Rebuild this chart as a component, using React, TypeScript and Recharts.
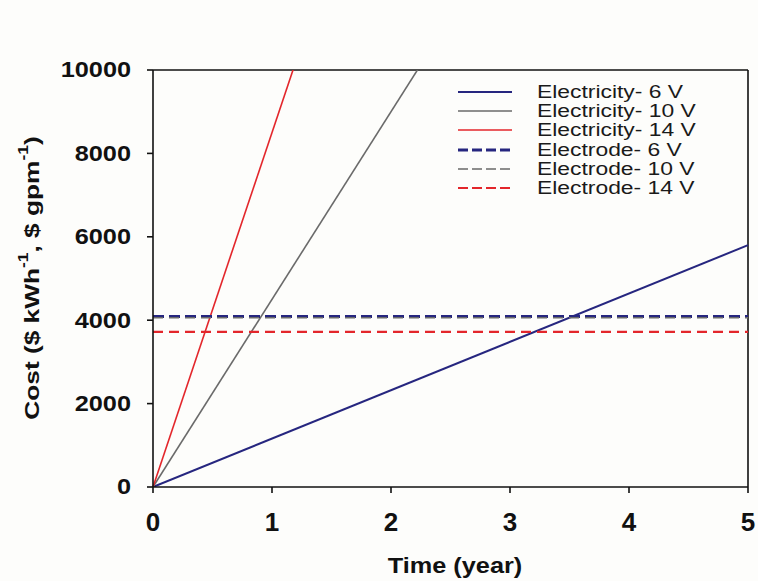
import { LineChart, Line, XAxis, YAxis, ReferenceLine, Label } from 'recharts'

// cost over time, electricity vs. electrode, per applied voltage
const years = [0, 5]
const electricity6V = [0, 5800]
const electricity10V = [0, 22500]
const electricity14V = [0, 42500]
const electrode6V = [4090, 4090]
const electrode10V = [4060, 4060]
const electrode14V = [3720, 3720]

const yTicks = [0, 2000, 4000, 6000, 8000, 10000]
const xTicks = [0, 1, 2, 3, 4, 5]

const data = years.map((t, i) => ({
  t,
  e6: electricity6V[i],
  e10: electricity10V[i],
  e14: electricity14V[i],
  d6: electrode6V[i],
  d10: electrode10V[i],
  d14: electrode14V[i],
}))

const FONT = '"Liberation Sans", Arial, sans-serif'
const NAVY = '#26267f'
const GREY = '#6a6a6a'
const RED = '#e3262b'

const series = [
  { key: 'e6', name: 'Electricity- 6 V', color: NAVY, width: 2, dash: undefined },
  { key: 'e10', name: 'Electricity- 10 V', color: GREY, width: 1.6, dash: undefined },
  { key: 'e14', name: 'Electricity- 14 V', color: RED, width: 1.6, dash: undefined },
  { key: 'd6', name: 'Electrode- 6 V', color: NAVY, width: 3, dash: '11 5' },
  { key: 'd10', name: 'Electrode- 10 V', color: GREY, width: 1.6, dash: '10 6' },
  { key: 'd14', name: 'Electrode- 14 V', color: RED, width: 2.2, dash: '10 6' },
]

const YTick = ({ x, y, payload }: any) => (
  <text transform={`translate(${x},${y}) scale(1.15,1)`} textAnchor="end" dominantBaseline="central"
    fontFamily={FONT} fontWeight="bold" fontSize={22} fill="#111">
    {payload.value}
  </text>
)

const XTick = ({ x, y, payload }: any) => (
  <text x={x} y={y + 29} textAnchor="middle" dominantBaseline="central"
    fontFamily={FONT} fontWeight="bold" fontSize={26} fill="#111">
    {payload.value}
  </text>
)

const YTitle = () => (
  <text transform="translate(31,278) rotate(-90) scale(1.25,1)" textAnchor="middle" dominantBaseline="central"
    fontFamily={FONT} fontWeight="bold" fontSize={21} fill="#111">
    Cost ($ kWh<tspan dy={-8} fontSize={14}>-1</tspan>
    <tspan dy={8}>, $ gpm</tspan><tspan dy={-8} fontSize={14}>-1</tspan>
    <tspan dy={8}>)</tspan>
  </text>
)

const XTitle = () => (
  <text transform="translate(455,566) scale(1.15,1)" textAnchor="middle" dominantBaseline="central"
    fontFamily={FONT} fontWeight="bold" fontSize={22} fill="#111">
    Time (year)
  </text>
)

// legend sits inside the plot frame, top right
const LegendBox = () => (
  <div style={{ position: 'absolute', left: 458, top: 82, fontFamily: FONT, fontSize: 18, color: '#1a1a1a' }}>
    {series.map(s => (
      <div key={s.key} style={{ display: 'flex', alignItems: 'center', height: 19.3 }}>
        <svg width={54} height={6} style={{ marginRight: 25 }}>
          <line x1={0} y1={3} x2={54} y2={3} stroke={s.color} strokeWidth={s.width}
            strokeDasharray={s.dash ? '10 4' : undefined} />
        </svg>
        <span style={{ display: 'inline-block', transform: 'scaleX(1.27)', transformOrigin: 'left center', whiteSpace: 'nowrap', lineHeight: 1 }}>
          {s.name}
        </span>
      </div>
    ))}
  </div>
)

export default function App() {
  return (
    <div style={{ position: 'absolute', left: 0, top: 0, width: 758, height: 581, background: '#fdfdfb' }}>
      <LineChart width={758} height={581} data={data} margin={{ top: 70, right: 10, left: 0, bottom: 0 }}>
        <XAxis
          dataKey="t"
          type="number"
          domain={[0, 5]}
          ticks={xTicks}
          height={94}
          tick={<XTick />}
          tickSize={6}
          tickMargin={0}
          axisLine={{ stroke: '#111', strokeWidth: 1.6 }}
          tickLine={{ stroke: '#111', strokeWidth: 1.6 }}
        >
          <Label content={<XTitle />} />
        </XAxis>
        <YAxis
          type="number"
          domain={[0, 10000]}
          allowDataOverflow
          ticks={yTicks}
          width={153}
          tick={<YTick />}
          tickSize={6}
          tickMargin={16}
          axisLine={{ stroke: '#111', strokeWidth: 1.6 }}
          tickLine={{ stroke: '#111', strokeWidth: 1.6 }}
        >
          <Label content={<YTitle />} />
        </YAxis>
        <ReferenceLine y={10000} stroke="#111" strokeWidth={1.6} />
        <ReferenceLine x={5} stroke="#111" strokeWidth={1.6} />
        {series.map(s => (
          <Line
            key={s.key}
            dataKey={s.key}
            name={s.name}
            type="linear"
            stroke={s.color}
            strokeWidth={s.width}
            strokeDasharray={s.dash}
            dot={false}
            activeDot={false}
            isAnimationActive={false}
          />
        ))}
      </LineChart>
      <LegendBox />
    </div>
  )
}
